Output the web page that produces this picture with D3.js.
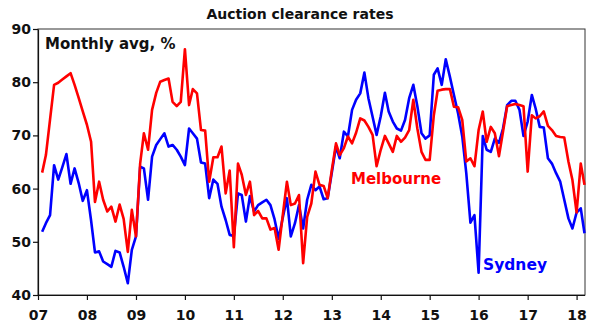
<!DOCTYPE html>
<html>
<head>
<meta charset="utf-8">
<script src="https://cdn.jsdelivr.net/npm/d3@7"></script>
<style>
  body { margin: 0; background: #fff; }
  text { font-family: "DejaVu Sans", sans-serif; font-weight: bold; }
</style>
</head>
<body>
<div id="chart"></div>
<script>
// Monthly series, first value is Feb 2007, last is Mar 2018
const firstMonth = new Date(2007, 1, 1);

const melbourne = [
  63.0, 66.3, 73.0, 79.5, 79.9, 80.5, 81.1, 81.7, 79.5, 77.0, 74.5, 72.0,
  68.8, 57.5, 61.3, 57.9, 55.7, 56.6, 53.8, 57.0, 54.3, 48.1, 56.0, 51.0,
  64.7, 70.4, 67.3, 74.8, 78.0, 80.1, 80.4, 80.7, 76.3, 75.5, 76.3, 86.2,
  75.7, 78.7, 77.9, 71.0, 70.9, 61.3, 65.9, 65.9, 67.9, 59.1, 63.4, 49.0,
  64.7, 62.6, 58.8, 61.3, 55.0, 55.8, 54.4, 54.4, 52.3, 52.6, 48.5, 55.0,
  61.3, 56.9, 57.2, 58.8, 46.0, 54.7, 57.2, 63.2, 60.7, 60.5, 58.2, 63.5,
  68.5, 66.3, 67.6, 69.8, 68.5, 70.5, 73.2, 72.8, 71.6, 70.1, 64.2, 67.3,
  69.9, 68.5, 66.9, 69.9, 68.8, 69.6, 71.0, 76.7, 71.3, 66.9, 65.4, 65.4,
  73.8, 78.4, 78.6, 78.7, 78.7, 75.4, 75.3, 72.9, 65.1, 65.7, 64.2, 71.0,
  74.5, 68.8, 71.6, 70.4, 66.1, 70.7, 75.5, 75.7, 75.9, 75.7, 75.5, 63.2,
  73.8, 73.2, 73.6, 74.5, 71.8, 71.0, 69.9, 69.7, 69.6, 65.1, 61.6, 55.5,
  64.7, 60.7
];

const sydney = [
  51.9, 53.5, 55.0, 64.4, 61.7, 64.0, 66.5, 60.9, 63.8, 61.0, 57.7, 59.7,
  54.0, 48.0, 48.2, 46.3, 45.8, 45.3, 48.3, 48.0, 45.3, 42.2, 48.5, 51.0,
  64.1, 63.8, 57.9, 66.0, 68.2, 69.3, 70.4, 67.9, 68.2, 67.3, 66.0, 64.4,
  71.3, 70.4, 69.4, 64.9, 64.7, 58.2, 61.7, 60.9, 56.6, 54.1, 51.3, 51.1,
  59.1, 58.8, 53.8, 58.6, 55.7, 56.9, 57.4, 57.9, 56.9, 54.2, 50.6, 54.5,
  58.2, 51.0, 53.5, 56.9, 52.5, 57.9, 60.7, 59.7, 60.4, 58.0, 58.2, 63.0,
  67.9, 65.7, 70.7, 69.8, 74.8, 76.7, 77.9, 81.8, 77.0, 73.5, 70.1, 73.6,
  78.0, 74.5, 72.6, 71.3, 70.9, 72.9, 77.0, 79.5, 75.5, 70.4, 69.4, 70.0,
  81.4, 82.6, 79.5, 84.3, 81.0, 77.6, 74.1, 69.8, 62.9, 53.6, 55.0, 44.2,
  69.9, 67.3, 66.9, 69.4, 68.6, 71.3, 75.7, 76.5, 76.5, 74.8, 69.9, 72.6,
  77.6, 75.1, 71.6, 71.5, 65.7, 64.7, 62.9, 61.3, 57.9, 54.4, 52.5, 55.5,
  56.3, 51.6
];

const yTicks = [40, 50, 60, 70, 80, 90];

const width = 596, height = 328;
const margin = { top: 29, right: 11, bottom: 33, left: 38 };

const svg = d3.select("#chart")
  .append("svg")
  .attr("width", width)
  .attr("height", height);

const xScale = d3.scaleTime()
  .domain([new Date(2007, 0, 1), new Date(2018, 2, 1)])
  .range([margin.left, width - margin.right - 0.5]);

const yScale = d3.scaleLinear()
  .domain([40, 90])
  .range([height - margin.bottom, margin.top]);

const dateAt = i => d3.timeMonth.offset(firstMonth, i);

// Frame
svg.append("rect")
  .attr("x", margin.left)
  .attr("y", margin.top)
  .attr("width", width - margin.right - margin.left)
  .attr("height", height - margin.bottom - margin.top)
  .attr("fill", "none")
  .attr("stroke", "#333")
  .attr("stroke-width", 1);

// Axes
const xAxis = svg.append("g")
  .attr("transform", `translate(0,${height - margin.bottom})`)
  .call(d3.axisBottom(xScale)
    .ticks(d3.timeYear.every(1))
    .tickFormat(d3.timeFormat("%y"))
    .tickSize(5)
    .tickSizeOuter(0));

const yAxis = svg.append("g")
  .attr("transform", `translate(${margin.left},0)`)
  .call(d3.axisLeft(yScale)
    .tickValues(yTicks)
    .tickSize(5)
    .tickSizeOuter(0));

[xAxis, yAxis].forEach(g => {
  g.select(".domain").attr("stroke", "#111").attr("stroke-width", 1.2);
  g.selectAll(".tick line").attr("stroke", "#111").attr("stroke-width", 1.2);
  g.selectAll("text")
    .style("font-size", "14px")
    .attr("fill", "#111");
});
xAxis.selectAll("text").attr("dy", "1.2em");
yAxis.selectAll("text").attr("x", -7);

// Lines
const line = d3.line()
  .x((d, i) => xScale(dateAt(i)))
  .y(d => yScale(d));

svg.append("path")
  .datum(sydney)
  .attr("fill", "none")
  .attr("stroke", "#0000ff")
  .attr("stroke-width", 2.6)
  .attr("stroke-linejoin", "round")
  .attr("d", line);

svg.append("path")
  .datum(melbourne)
  .attr("fill", "none")
  .attr("stroke", "#ff0000")
  .attr("stroke-width", 2.6)
  .attr("stroke-linejoin", "round")
  .attr("d", line);

// Labels
svg.append("text")
  .attr("x", 300)
  .attr("y", 19)
  .attr("text-anchor", "middle")
  .style("font-size", "14px")
  .attr("fill", "#111")
  .text("Auction clearance rates");

svg.append("text")
  .attr("x", 45)
  .attr("y", 49)
  .style("font-size", "15px")
  .attr("fill", "#111")
  .text("Monthly avg, %");

svg.append("text")
  .attr("x", 351)
  .attr("y", 184)
  .style("font-size", "15px")
  .attr("fill", "#ff0000")
  .text("Melbourne");

svg.append("text")
  .attr("x", 483)
  .attr("y", 270)
  .style("font-size", "15.5px")
  .attr("fill", "#0000ff")
  .text("Sydney");
</script>
</body>
</html>
